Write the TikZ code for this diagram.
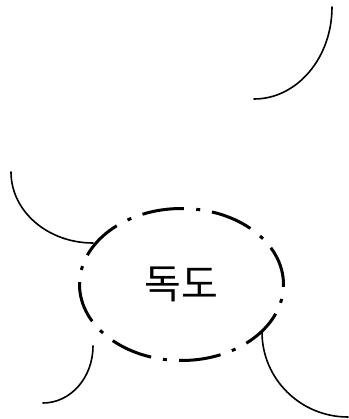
\documentclass[tikz,border=0pt]{standalone}
\usepackage{fontspec}
\newfontfamily\kr{Noto Sans CJK KR}
\usetikzlibrary{shapes.geometric}
\tikzset{
  island/.style={ellipse, draw, line width=3pt, minimum width=204pt, minimum height=152pt, inner sep=0pt,
    dash pattern=on 42pt off 12pt on 4pt off 12.3pt, dash phase=2.5pt, font=\kr\fontsize{40}{40}\selectfont},
  shore/.style={line width=1.6pt, line cap=round}
}
\begin{document}
\begin{tikzpicture}[x=1pt,y=-1pt]
\useasboundingbox (0,0) rectangle (348,419);
\node[island] (dokdo) at (181.5,284.5) {독도};
\coordinate (a0) at (332,7);   \coordinate (a1) at (254,99);
\coordinate (b0) at (11,172);  \coordinate (b1) at (93,243);
\coordinate (c0) at (93,346);  \coordinate (c1) at (43,403);
\coordinate (d0) at (262,332); \coordinate (d1) at (348,417);
\draw[shore] (a0) .. controls (332,57.8) and (297.1,99) .. (a1);
\draw[shore] (b0) .. controls (11,211.2) and (47.7,243) .. (b1);
\draw[shore] (c0) .. controls (93,377.5) and (70.6,403) .. (c1);
\draw[shore] (d0) .. controls (262,378.9) and (300.5,417) .. (d1);
\end{tikzpicture}
\end{document}
